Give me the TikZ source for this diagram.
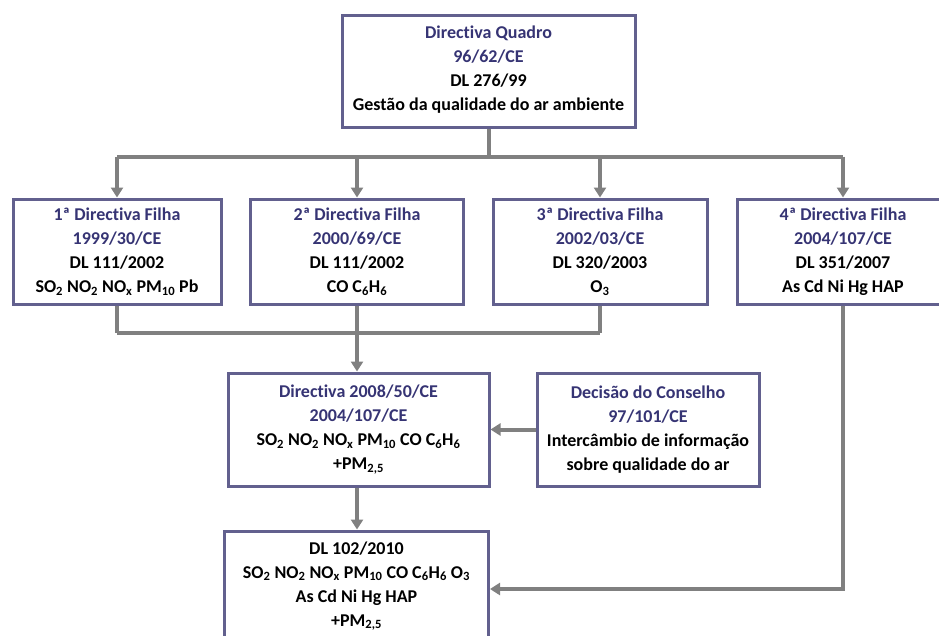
\documentclass[tikz,border=0pt]{standalone}
\usepackage{fontspec}
\setmainfont[Ligatures=NoCommon]{Carlito}
\usetikzlibrary{arrows.meta}

\begin{document}
\begin{tikzpicture}[x=1pt, y=-1pt, >={Triangle[width=12pt,length=10pt]},
  box/.style={draw=frame, line width=3pt, fill=white, align=center,
    inner sep=0pt, font=\bfseries\fontsize{18}{24}\selectfont},
  link/.style={draw=linkgray, line width=4pt}]
  \definecolor{frame}{RGB}{98,96,142}
  \definecolor{heading}{RGB}{54,52,116}
  \definecolor{linkgray}{RGB}{128,128,128}

  \useasboundingbox[fill=white] (0,0) rectangle (939,635);
  \clip (0,0) rectangle (939,635);

  % directive and daughters
  \node[box, minimum width=293pt, minimum height=112pt] (quadro) at (488.5,71)
    {{\color{heading}Directiva Quadro}\\{\color{heading}96/62/CE}\\DL 276/99\\Gestão da qualidade do ar ambiente\\[-18pt]};
  \node[box, minimum width=208pt, minimum height=105pt] (filha1) at (117,251.5)
    {{\color{heading}1ª Directiva Filha}\\{\color{heading}1999/30/CE}\\DL 111/2002\\SO\textsubscript{2} NO\textsubscript{2} NO\textsubscript{x} PM\textsubscript{10} Pb};
  \node[box, minimum width=213pt, minimum height=105pt] (filha2) at (357,251.5)
    {{\color{heading}2ª Directiva Filha}\\{\color{heading}2000/69/CE}\\DL 111/2002\\CO C\textsubscript{6}H\textsubscript{6}};
  \node[box, minimum width=214pt, minimum height=105pt] (filha3) at (600,251.5)
    {{\color{heading}3ª Directiva Filha}\\{\color{heading}2002/03/CE}\\DL 320/2003\\O\textsubscript{3}};
  \node[box, minimum width=212pt, minimum height=105pt] (filha4) at (843,251.5)
    {{\color{heading}4ª Directiva Filha}\\{\color{heading}2004/107/CE}\\DL 351/2007\\As Cd Ni Hg HAP};

  % merged directive, council decision, decree
  \node[box, minimum width=261pt, minimum height=113pt] (dir2008) at (358.5,429.5)
    {{\color{heading}Directiva 2008/50/CE}\\{\color{heading}2004/107/CE}\\SO\textsubscript{2} NO\textsubscript{2} NO\textsubscript{x} PM\textsubscript{10} CO C\textsubscript{6}H\textsubscript{6}\\+PM\textsubscript{2,5}};
  \node[box, minimum width=222pt, minimum height=113pt] (decisao) at (648,429.5)
    {{\color{heading}Decisão do Conselho}\\{\color{heading}97/101/CE}\\Intercâmbio de informação\\sobre qualidade do ar};
  \node[box, minimum width=264pt, minimum height=110pt] (dl2010) at (356.5,586)
    {DL 102/2010\\SO\textsubscript{2} NO\textsubscript{2} NO\textsubscript{x} PM\textsubscript{10} CO C\textsubscript{6}H\textsubscript{6} O\textsubscript{3}\\As Cd Ni Hg HAP\\+PM\textsubscript{2,5}};

  % connectors
  \draw[link] (quadro.south) -- ++(0,28) coordinate (topbus);
  \draw[link] (topbus -| filha1) -- (topbus -| filha4);
  \foreach \n in {filha1,filha2,filha3,filha4}
    \draw[link, ->] (topbus -| \n) -- (\n.north);

  \foreach \n in {filha1,filha2,filha3}
    \draw[link] (\n.south) -- ++(0,27) coordinate (low\n);
  \draw[link] (lowfilha1) -- (lowfilha3);
  \draw[link, ->] (lowfilha2) -- (lowfilha2 |- dir2008.north);

  \draw[link, ->] (decisao.west) -- (dir2008.east);
  \draw[link, ->] (dir2008.south -| lowfilha2) -- (lowfilha2 |- dl2010.north);
  \draw[link, ->] (filha4.south) |- ([yshift=-3pt]dl2010.east);
\end{tikzpicture}
\end{document}
